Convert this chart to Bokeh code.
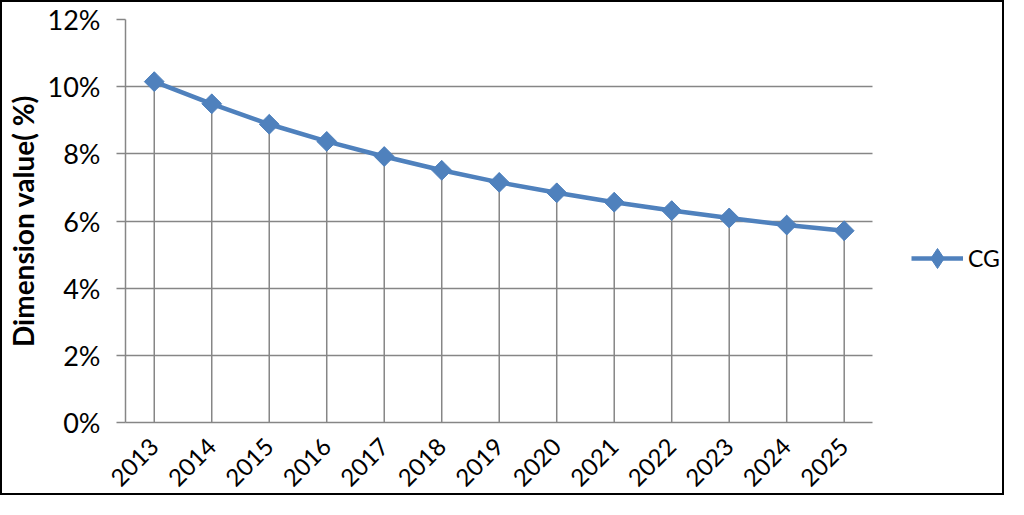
import math
from bokeh.plotting import figure
from bokeh.models import (Range1d, PrintfTickFormatter, SingleIntervalTicker, FixedTicker,
                          CustomJSTickFormatter, Legend, LegendItem)
from bokeh.embed import file_html
from bokeh.resources import INLINE

years = ["2013", "2014", "2015", "2016", "2017", "2018", "2019",
         "2020", "2021", "2022", "2023", "2024", "2025"]
cg_values = [10.15, 9.49, 8.88, 8.37, 7.92, 7.51, 7.15,
             6.84, 6.56, 6.31, 6.09, 5.88, 5.71]
series_name = "CG"
y_label = "Dimension value( %)"

BLUE = "#4F81BD"
GRID = "#868686"
FONT = "Lato"

W, H = 1004, 495
LEFT, TOP, BOTTOM = 120, 17, 75
DATA_PX = 750                      # width of the category area in pixels
n = len(years)
xs = [i + 0.5 for i in range(n)]   # category centres
x_end = n * (W - LEFT) / DATA_PX   # frame extends to the right to host the legend

p = figure(width=W, height=H, x_range=Range1d(0, x_end), y_range=Range1d(0, 12),
           output_backend="svg", toolbar_location=None,
           min_border_left=LEFT, min_border_right=0, min_border_top=TOP, min_border_bottom=BOTTOM)
p.styles = {"border": "2px solid black"}
p.outline_line_color = None
p.background_fill_color = "white"

# drop lines
p.segment(x0=xs, y0=[0] * n, x1=xs, y1=cg_values, line_color=GRID, line_width=1.5)

line_r = p.line(xs, cg_values, line_color=BLUE, line_width=4.5)
# diamond (used for the legend swatch), hidden under the rotated squares
legend_marker = p.scatter(xs, cg_values, marker="diamond", size=19,
                          fill_color=BLUE, line_color=BLUE)
p.scatter(xs, cg_values, marker="square", angle=math.pi / 4, size=14,
          fill_color=BLUE, line_color=BLUE)

# grids
p.xgrid.grid_line_color = None
p.ygrid.grid_line_color = GRID
p.ygrid.grid_line_width = 1.5
p.ygrid.cross_bounds = (0, n)

# y axis
p.yaxis.ticker = SingleIntervalTicker(interval=2)
p.yaxis.formatter = PrintfTickFormatter(format="%d%%")
p.yaxis.axis_line_color = GRID
p.yaxis.axis_line_width = 1.5
p.yaxis.major_tick_line_color = GRID
p.yaxis.major_tick_line_width = 1.5
p.yaxis.major_tick_out = 9
p.yaxis.major_tick_in = 0
p.yaxis.minor_tick_line_color = None
p.yaxis.major_label_standoff = 16
p.yaxis.major_label_text_font = FONT
p.yaxis.major_label_text_font_size = "27px"
p.yaxis.major_label_text_color = "black"
p.yaxis.axis_label = y_label
p.yaxis.axis_label_text_font = FONT
p.yaxis.axis_label_text_font_style = "bold"
p.yaxis.axis_label_text_font_size = "28px"
p.yaxis.axis_label_text_color = "black"
p.yaxis.axis_label_standoff = 5

# x axis
p.xaxis.bounds = (0, n)
p.xaxis.ticker = FixedTicker(ticks=xs)
p.xaxis.formatter = CustomJSTickFormatter(args=dict(years=years),
                                          code="const i = Math.floor(tick); return (i >= 0 && i < years.length) ? years[i] : '';")
p.xaxis.axis_line_color = GRID
p.xaxis.axis_line_width = 1.5
p.xaxis.major_tick_line_color = None
p.xaxis.minor_tick_line_color = None
p.xaxis.major_label_orientation = math.pi / 4
p.xaxis.major_label_standoff = 14
p.xaxis.major_label_text_font = FONT
p.xaxis.major_label_text_font_size = "24px"
p.xaxis.major_label_text_color = "black"

legend = Legend(items=[LegendItem(label=series_name, renderers=[line_r, legend_marker])],
                location=(786, 139), padding=0, margin=0, border_line_color=None,
                background_fill_alpha=0, glyph_width=52, glyph_height=50,
                label_height=50, label_standoff=5,
                label_text_font=FONT, label_text_font_size="23px", label_text_color="black")
p.add_layout(legend, "center")

open("out.html", "w").write(file_html(p, INLINE))
